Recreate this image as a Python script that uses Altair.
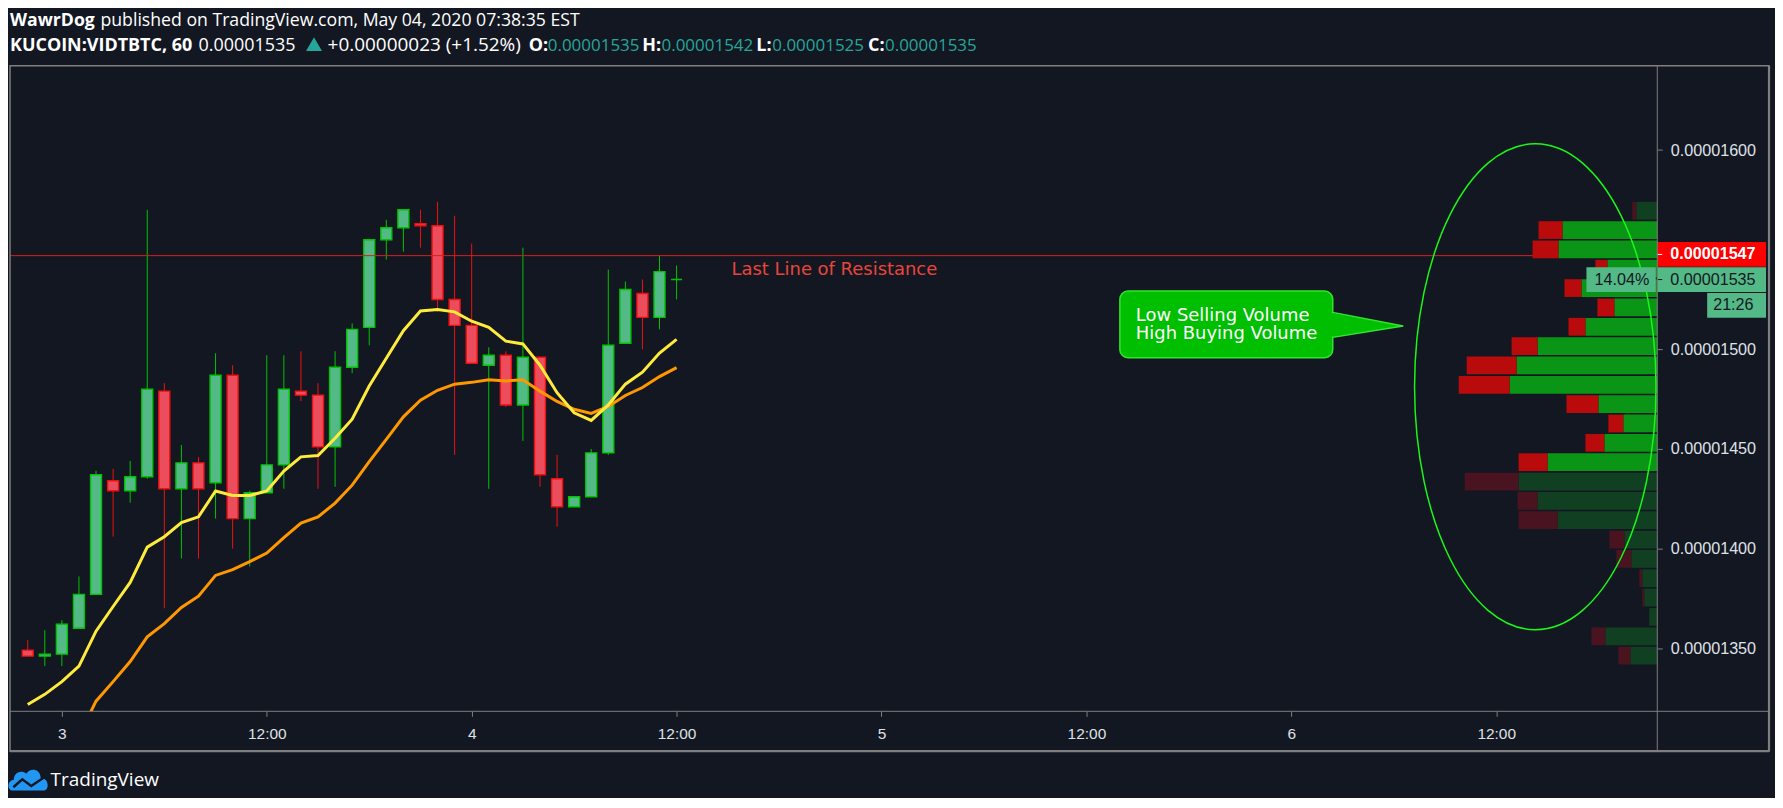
import altair as alt
import pandas as pd

SAT = 1e-8  # prices below are in satoshi (1e-8 BTC)

# ---------------- data ----------------
hours = list(range(-2, 37))  # hours since May 3, 00:00
open_sat = [1349, 1346, 1347, 1360, 1377, 1434, 1429, 1436, 1479, 1430, 1443, 1433, 1487, 1415, 1428,
            1442, 1479, 1477, 1451, 1491, 1511, 1555, 1561, 1563, 1562, 1525, 1512, 1492, 1497, 1472,
            1496, 1435, 1421, 1426, 1448, 1503, 1528, 1516, 1535]
high_sat = [1354, 1359, 1364, 1386, 1439, 1440, 1444, 1570, 1483, 1452, 1446, 1498, 1492, 1429, 1497,
            1497, 1499, 1483, 1499, 1513, 1555, 1565, 1570, 1570, 1574, 1567, 1553, 1501, 1499, 1551,
            1496, 1447, 1426, 1450, 1540, 1534, 1535, 1547, 1542]
low_sat = [1346, 1341, 1341, 1360, 1377, 1406, 1423, 1435, 1370, 1395, 1395, 1415, 1400, 1391, 1428,
           1430, 1474, 1430, 1431, 1488, 1502, 1545, 1549, 1551, 1519, 1447, 1493, 1430, 1471, 1454,
           1431, 1411, 1421, 1426, 1447, 1503, 1500, 1510, 1525]
close_sat = [1346, 1347, 1362, 1377, 1437, 1429, 1436, 1480, 1430, 1443, 1430, 1487, 1415, 1428, 1442,
             1480, 1477, 1451, 1491, 1510, 1555, 1561, 1570, 1562, 1525, 1512, 1493, 1497, 1472, 1496,
             1437, 1421, 1426, 1448, 1502, 1530, 1516, 1539, 1535]

ema_fast_sat = [1321.7, 1326.8, 1333.2, 1341.0, 1358.5, 1370.9, 1383.0, 1400.7, 1405.9, 1413.0, 1415.9,
                1428.9, 1426.6, 1426.6, 1428.9, 1438.9, 1446.0, 1446.7, 1455.3, 1464.9, 1481.6, 1495.5,
                1509.3, 1519.2, 1520.0, 1518.8, 1514.1, 1511.0, 1504.1, 1502.7, 1492.0, 1478.2, 1468.1,
                1464.3, 1472.1, 1482.5, 1488.5, 1498.1, 1505.0]
ema_slow_hours = list(range(1, 37))
ema_slow_sat = [1306.0, 1323.4, 1333.2, 1343.3, 1355.7, 1362.3, 1370.4, 1376.1, 1386.5, 1389.4, 1393.4,
                1397.7, 1405.5, 1412.8, 1415.9, 1422.8, 1431.8, 1443.6, 1454.8, 1466.1, 1474.4, 1479.4,
                1482.5, 1483.4, 1484.7, 1484.1, 1484.7, 1479.0, 1473.8, 1469.9, 1467.8, 1471.3, 1476.8,
                1480.8, 1486.3, 1490.8]

# volume profile (visible range), rows from highest price to lowest, relative volume
vp_buy = [21, 95, 99, 50, 76, 43, 72, 120, 141, 148, 59, 34, 53, 110, 139, 120, 100, 33, 26, 15, 13, 8, 52, 27]
vp_sell = [4, 24, 26, 12, 17, 17, 17, 26, 50, 51, 32, 15, 19, 29, 54, 20, 39, 15, 15, 3, 2, 0, 14, 12]
vp_in_value_area = [False] + [True] * 13 + [False] * 10

y_tick_sat = [1350, 1400, 1450, 1500, 1600]
x_tick_hours = [0, 12, 24, 36, 48, 60, 72, 84]

resistance_sat = 1547
last_sat = 1535

# ---------------- tables ----------------
candles = pd.DataFrame({
    "hour": hours,
    "open": [v * SAT for v in open_sat],
    "high": [v * SAT for v in high_sat],
    "low": [v * SAT for v in low_sat],
    "close": [v * SAT for v in close_sat],
})
candles["dir"] = ["up" if c >= o else "down" for o, c in zip(open_sat, close_sat)]

ema_fast = pd.DataFrame({"hour": hours, "value": [v * SAT for v in ema_fast_sat]})
ema_slow = pd.DataFrame({"hour": ema_slow_hours, "value": [v * SAT for v in ema_slow_sat]})

lo_p, hi_p = min(low_sat), max(high_sat)
step = (hi_p - lo_p) / len(vp_buy)
gap = 0.8
prof_rows = []
for i, (b, s, va) in enumerate(zip(vp_buy, vp_sell, vp_in_value_area)):
    top = hi_p - i * step
    bot = top - step + gap
    suffix = "" if va else "_out"
    prof_rows.append({"kind": "buy" + suffix, "v0": 0, "v1": b, "lo": bot * SAT, "hi": top * SAT})
    prof_rows.append({"kind": "sell" + suffix, "v0": b, "v1": b + s, "lo": bot * SAT, "hi": top * SAT})
profile = pd.DataFrame(prof_rows)

# ---------------- scales / axes ----------------
W, H = 1651, 647
X_DOM = [-2.746, 93.14]
Y_DOM = [1318.3 * SAT, 1642.3 * SAT]
GRAY = "#7f7f7f"
BG = "#131722"
AXIS_TXT = "#dfe1e6"

xaxis = alt.Axis(values=x_tick_hours,
                 labelExpr="datum.value % 24 == 0 ? '' + (3 + datum.value / 24) : '12:00'",
                 grid=False, domain=False, tickSize=5, tickColor=GRAY, labelColor=AXIS_TXT,
                 labelFont="Liberation Sans", labelFontSize=15.5, labelPadding=17,
                 labelBaseline="middle", labelAlign="center", labelFlush=False, labelOverlap=False,
                 title=None)
yaxis = alt.Axis(orient="right", values=[v * SAT for v in y_tick_sat], format=".8f", grid=False,
                 domain=False, tickSize=5, tickColor=GRAY, labelColor=AXIS_TXT,
                 labelFont="Liberation Sans", labelFontSize=16.2, labelPadding=8,
                 labelFlush=False, labelOverlap=False, title=None)


def X(field, axis=True):
    return alt.X(field, type="quantitative",
                 scale=alt.Scale(domain=X_DOM, nice=False, zero=False),
                 axis=xaxis if axis else None)


def Y(field):
    return alt.Y(field, type="quantitative",
                 scale=alt.Scale(domain=Y_DOM, nice=False, zero=False),
                 axis=yaxis)


one = pd.DataFrame({"a": [0]})

# ---------------- price layers ----------------
dir_dom = ["up", "down"]
wicks = alt.Chart(candles).mark_rule(strokeWidth=1).encode(
    x=X("hour"), y=Y("low"), y2="high",
    color=alt.Color("dir:N", scale=alt.Scale(domain=dir_dom, range=["#00c400", "#ee1111"]), legend=None))
bodies = alt.Chart(candles).mark_bar(size=11, strokeWidth=1.4).encode(
    x=X("hour"), y=Y("open"), y2="close",
    fill=alt.Fill("dir:N", scale=alt.Scale(domain=dir_dom, range=["#53b987", "#eb4d5c"]), legend=None),
    stroke=alt.Stroke("dir:N", scale=alt.Scale(domain=dir_dom, range=["#00c400", "#ee1111"]), legend=None))
fast_line = alt.Chart(ema_fast).mark_line(color="#ffeb3b", strokeWidth=3, clip=True).encode(
    x=X("hour"), y=Y("value"))
slow_line = alt.Chart(ema_slow).mark_line(color="#ff9800", strokeWidth=3, clip=True).encode(
    x=X("hour"), y=Y("value"))
res_df = pd.DataFrame({"price": [resistance_sat * SAT]})
res_rule = alt.Chart(res_df).mark_rule(color="#d41f1f", strokeWidth=1).encode(y=Y("price"))

price_group = alt.layer(wicks, bodies, slow_line, fast_line, res_rule)

# ---------------- volume profile ----------------
prof_chart = alt.Chart(profile).mark_rect().encode(
    x=alt.X("v0:Q", scale=alt.Scale(domain=[0, W], reverse=True, nice=False, zero=False), axis=None),
    x2="v1:Q", y=Y("lo"), y2="hi",
    color=alt.Color("kind:N", scale=alt.Scale(
        domain=["buy", "sell", "buy_out", "sell_out"],
        range=["#0b9516", "#b90b0b", "#113f22", "#4a1320"]), legend=None))

# ---------------- drawings (anchored in time / price) ----------------
res_text = alt.Chart(pd.DataFrame({"hour": [39.25], "price": [1537.5 * SAT]})).mark_text(
    text="Last Line of Resistance", align="left", baseline="alphabetic", font="DejaVu Sans",
    fontSize=18, color="#e8453c").encode(x=X("hour", False), y=Y("price"))

ELLIPSE = "M 0 -1 A 0.4969 1 0 1 1 0 1 A 0.4969 1 0 1 1 0 -1 Z"
ellipse = alt.Chart(pd.DataFrame({"hour": [86.04], "price": [1481.2 * SAT]})).mark_point(
    shape=ELLIPSE, size=237169, filled=False, stroke="#19f719", strokeWidth=1.5, opacity=1).encode(
    x=X("hour", False), y=Y("price"))

box_df = pd.DataFrame({"h0": [61.86], "h1": [74.25], "p0": [1495.8 * SAT], "p1": [1529.2 * SAT]})
callout_box = alt.Chart(box_df).mark_rect(cornerRadius=8, fill="#00be00", stroke="#2ee62e",
                                          strokeWidth=1.5).encode(x=X("h0", False), x2="h1", y=Y("p0"), y2="p1")
ptr_df = pd.DataFrame({"hour": [74.0, 78.35], "lo": [1506.0 * SAT, 1511.7 * SAT], "hi": [1518.5 * SAT, 1511.7 * SAT]})
pointer = alt.Chart(ptr_df).mark_area(color="#00be00", opacity=1).encode(
    x=X("hour", False), y=Y("lo"), y2="hi")
ptr_edges = pd.DataFrame({"hour": [74.25, 78.35, 74.25, 78.35],
                          "price": [1518.5 * SAT, 1511.7 * SAT, 1506.0 * SAT, 1511.7 * SAT],
                          "seg": ["a", "a", "b", "b"]})
pointer_edge = alt.Chart(ptr_edges).mark_line(color="#2ee62e", strokeWidth=1.5).encode(
    x=X("hour", False), y=Y("price"), detail="seg:N")
callout_text = alt.Chart(pd.DataFrame({
    "hour": [62.79, 62.79], "price": [1514.3 * SAT, 1505.2 * SAT],
    "t": ["Low Selling Volume", "High Buying Volume"]})).mark_text(
    align="left", baseline="alphabetic", font="DejaVu Sans", fontSize=18, color="#ffffff").encode(
    x=X("hour", False), y=Y("price"), text="t:N")

drawings = alt.layer(res_text, ellipse, callout_box, pointer, pointer_edge, callout_text)

# ---------------- price-scale labels ----------------
BOX_HALF = 6.2


def price_box(center, x0, x1, fill):
    d = pd.DataFrame({"lo": [(center - BOX_HALF) * SAT], "hi": [(center + BOX_HALF) * SAT]})
    return alt.Chart(d).mark_rect(fill=fill).encode(x=alt.value(x0), x2=alt.value(x1), y=Y("lo"), y2="hi")


def price_text(center, text, x, color, align="left", weight="normal"):
    d = pd.DataFrame({"p": [center * SAT]})
    return alt.Chart(d).mark_text(text=text, align=align, baseline="middle", font="Liberation Sans",
                                  fontSize=16.2, color=color, fontWeight=weight).encode(
        x=alt.value(x), y=Y("p"))


def price_tick(center, color):
    d = pd.DataFrame({"p": [center * SAT]})
    return alt.Chart(d).mark_rule(color=color, strokeWidth=1).encode(
        x=alt.value(W), x2=alt.value(W + 5), y=Y("p"))


timer_center = last_sat - 2 * BOX_HALF - 0.6
labels = alt.layer(
    price_box(resistance_sat + 0.6, W, 1760, "#ff0000"),
    price_text(resistance_sat + 0.6, "0.00001547", 1664, "#ffffff", weight="bold"),
    price_tick(resistance_sat + 0.6, "#ffffff"),
    price_box(last_sat, W, 1760, "#53b987"),
    price_text(last_sat, "0.00001535", 1664, BG),
    price_tick(last_sat, BG),
    price_box(last_sat, 1580, 1649.5, "#53b987"),
    price_text(last_sat, "14.04%", 1643, BG, align="right"),
    price_box(timer_center, 1701, 1760, "#53b987"),
    price_text(timer_center, "21:26", 1707, BG),
)

# ---------------- frame ----------------
FR_R, FR_B = 1763, 687
frame = alt.layer(
    alt.Chart(one).mark_rect(fillOpacity=0, stroke=GRAY, strokeWidth=1.5).encode(
        x=alt.value(0), x2=alt.value(FR_R), y=alt.value(0), y2=alt.value(FR_B)),
    alt.Chart(one).mark_rule(color=GRAY, strokeWidth=2.2).encode(
        x=alt.value(0), x2=alt.value(FR_R), y=alt.value(FR_B)),
    alt.Chart(one).mark_rule(color=GRAY, strokeWidth=2.2).encode(
        x=alt.value(FR_R), y=alt.value(0), y2=alt.value(FR_B)),
    alt.Chart(one).mark_rule(color=GRAY, strokeWidth=1).encode(
        x=alt.value(0), x2=alt.value(FR_R), y=alt.value(H)),
    alt.Chart(one).mark_rule(color=GRAY, strokeWidth=1).encode(
        x=alt.value(W), y=alt.value(0), y2=alt.value(FR_B)),
)


# ---------------- header / footer text ----------------
def txt(text, x, y, size=18, weight="normal", color="#ffffff", font="Open Sans"):
    return alt.Chart(one).mark_text(text=text, align="left", baseline="alphabetic", font=font,
                                    fontSize=size, fontWeight=weight, color=color).encode(
        x=alt.value(x), y=alt.value(y))


TEAL = "#26a69a"
header = alt.layer(
    txt("WawrDog", 0, -40, size=17.7, weight="bold"),
    txt("published on TradingView.com, May 04, 2020 07:38:35 EST", 90.7, -40, size=17.7),
    txt("KUCOIN:VIDTBTC, 60", 0, -15, weight="bold"),
    txt("0.00001535", 189, -15),
    alt.Chart(one).mark_point(shape="triangle-up", filled=True, size=256, color=TEAL, opacity=1).encode(
        x=alt.value(304.7), y=alt.value(-21.7)),
    txt("+0.00000023 (+1.52%)", 318.3, -15, size=19),
    txt("O:", 520, -15, weight="bold"), txt("0.00001535", 539, -15, size=17, color=TEAL),
    txt("H:", 633.6, -15, weight="bold"), txt("0.00001542", 653, -15, size=17, color=TEAL),
    txt("L:", 748, -15, weight="bold"), txt("0.00001525", 764, -15, size=17, color=TEAL),
    txt("C:", 860, -15, weight="bold"), txt("0.00001535", 877, -15, size=17, color=TEAL),
)

CLOUD = ("M -0.78 0.55 C -1.05 0.55 -1.1 0.05 -0.72 0.0 C -0.72 -0.35 -0.35 -0.5 -0.1 -0.3 "
         "C 0.1 -0.62 0.6 -0.55 0.62 -0.1 C 1.05 -0.1 1.08 0.55 0.75 0.55 Z")
ZIGZAG = "M -0.75 0.38 L -0.3 -0.02 L 0.15 0.32 L 0.8 -0.12"
footer = alt.layer(
    alt.Chart(one).mark_point(shape=CLOUD, size=1600, filled=True, color="#2196f3", opacity=1).encode(
        x=alt.value(18.3), y=alt.value(715.5)),
    alt.Chart(one).mark_point(shape=ZIGZAG, size=1600, filled=False, stroke=BG, strokeWidth=2.5,
                              opacity=1).encode(x=alt.value(18.3), y=alt.value(715.5)),
    txt("TradingView", 40.7, 722.3, size=19),
)

chart = alt.layer(price_group, prof_chart, drawings, labels, frame, header, footer).resolve_scale(
    x="independent", color="independent", fill="independent", stroke="independent").properties(
    width=W, height=H,
    autosize=alt.AutoSizeParams(type="none"),
    padding={"left": 2, "top": 57, "right": 118, "bottom": 86},
).configure(background=BG).configure_view(strokeWidth=0)

chart.save("out.html", embed_options={"renderer": "svg", "actions": False})
